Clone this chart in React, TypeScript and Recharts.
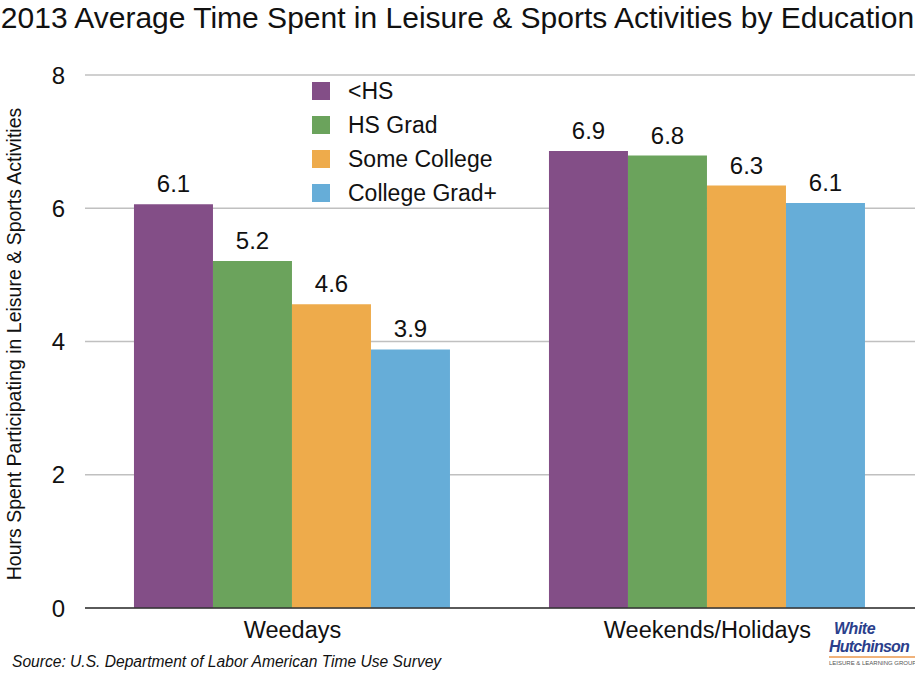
import React from 'react';
import { BarChart, Bar, XAxis, YAxis, CartesianGrid, LabelList } from 'recharts';

const periods = ['Weedays', 'Weekends/Holidays'];
const lessThanHS = [6.06, 6.86];
const hsGrad = [5.21, 6.79];
const someCollege = [4.56, 6.34];
const collegeGrad = [3.88, 6.08];
const yTicks = [0, 2, 4, 6, 8];

const series = [
  { key: 'lessHS', name: '<HS', color: '#834e87', values: lessThanHS },
  { key: 'hsGrad', name: 'HS Grad', color: '#6ba35c', values: hsGrad },
  { key: 'someCollege', name: 'Some College', color: '#eeab4b', values: someCollege },
  { key: 'collegeGrad', name: 'College Grad+', color: '#66add8', values: collegeGrad },
];

const data = periods.map((p, i) => {
  const row: any = { name: p };
  series.forEach((s) => {
    row[s.key] = s.values[i];
  });
  return row;
});

const font = '"Liberation Sans", Arial, Helvetica, sans-serif';

const fmt = (v: any) => Number(v).toFixed(1);

export default function App() {
  return (
    <div style={{ position: 'absolute', left: 0, top: 0, width: 915, height: 674, background: '#fff', fontFamily: font, overflow: 'hidden' }}>
      <div style={{ position: 'absolute', left: 0, top: 0, width: 915, textAlign: 'center', fontSize: 30, lineHeight: '36px', color: '#111', whiteSpace: 'nowrap' }}>
        2013 Average Time Spent in Leisure &amp; Sports Activities by Education
      </div>

      <BarChart
        width={915}
        height={674}
        data={data}
        margin={{ top: 75, right: 0, left: 0, bottom: 26 }}
        barCategoryGap="11.8%"
        barGap={0}
        style={{ position: 'absolute', left: 0, top: 0, fontFamily: font }}
      >
        <CartesianGrid vertical={false} stroke="#c0c0c0" strokeWidth={1.5} />
        <XAxis
          dataKey="name"
          height={40}
          axisLine={{ stroke: '#333', strokeWidth: 1.5 }}
          tickLine={false}
          tickSize={0}
          tickMargin={13}
          tick={{ fill: '#111', fontSize: 23.5 }}
        />
        <YAxis
          width={85}
          domain={[0, 8]}
          ticks={yTicks}
          axisLine={false}
          tickLine={false}
          tickSize={0}
          tickMargin={20}
          tick={{ fill: '#111', fontSize: 24 }}
        />
        {series.map((s) => (
          <Bar key={s.key} dataKey={s.key} name={s.name} fill={s.color} isAnimationActive={false}>
            <LabelList dataKey={s.key} position="top" offset={12} formatter={fmt} style={{ fill: '#111', fontSize: 24 }} />
          </Bar>
        ))}
      </BarChart>

      <div style={{ position: 'absolute', left: 312, top: 74 }}>
        {series.map((s) => (
          <div key={s.key} style={{ display: 'flex', alignItems: 'center', height: 34 }}>
            <div style={{ width: 18, height: 18, background: s.color, marginRight: 18 }} />
            <span style={{ fontSize: 23, color: '#111' }}>{s.name}</span>
          </div>
        ))}
      </div>

      <div
        style={{
          position: 'absolute',
          left: 14,
          top: 344,
          transform: 'translate(-50%, -50%) rotate(-90deg)',
          whiteSpace: 'nowrap',
          fontSize: 19.5,
          color: '#111',
        }}
      >
        Hours Spent Participating in Leisure &amp; Sports Activities
      </div>

      <div style={{ position: 'absolute', left: 12, top: 653, fontSize: 15.6, fontStyle: 'italic', color: '#111' }}>
        Source: U.S. Department of Labor American Time Use Survey
      </div>

      <div style={{ position: 'absolute', left: 829, top: 620, width: 86 }}>
        <div style={{ fontSize: 16, lineHeight: '18px', height: 18, fontWeight: 'bold', fontStyle: 'italic', color: '#2b3f8c', paddingLeft: 5, letterSpacing: -0.5 }}>White</div>
        <div style={{ fontSize: 16, lineHeight: '18px', height: 18, fontWeight: 'bold', fontStyle: 'italic', color: '#2b3f8c', letterSpacing: -0.8 }}>Hutchinson</div>
        <div style={{ fontSize: 6, lineHeight: '8px', color: '#555', borderTop: '2px solid #f0b27a', paddingTop: 1, whiteSpace: 'nowrap' }}>
          LEISURE &amp; LEARNING GROUP
        </div>
      </div>
    </div>
  );
}
